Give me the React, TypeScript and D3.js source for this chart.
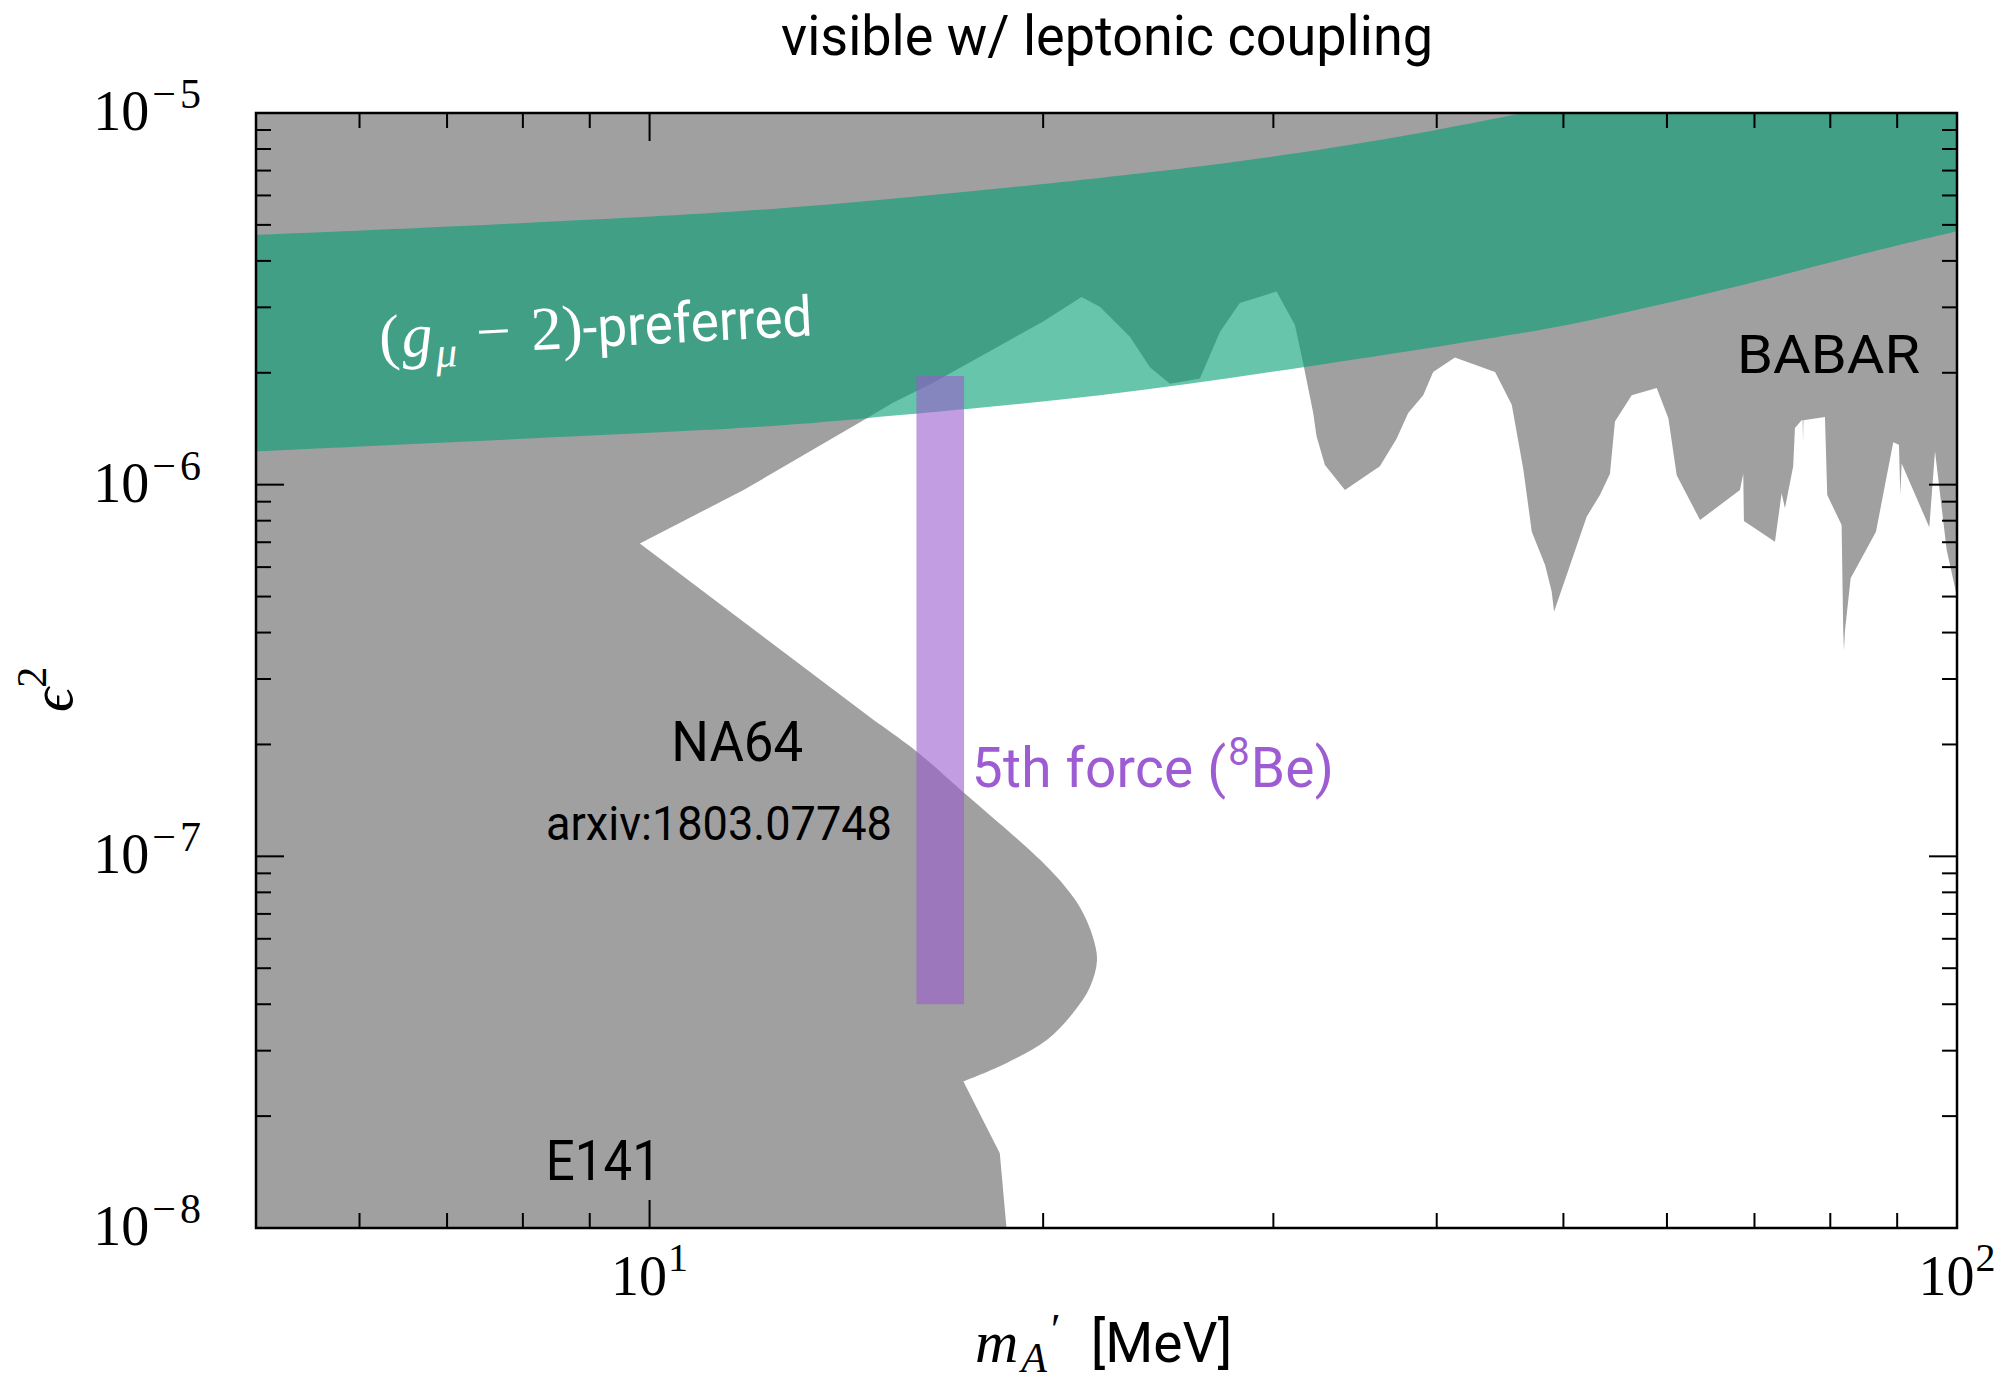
import React from "react";
import * as d3 from "d3";

type Pt = [number, number];

const W = 2006;
const H = 1382;
const plot = { left: 256, right: 1957, top: 113, bottom: 1228 };

const massDomain: Pt = [5, 100];
const eps2Domain: Pt = [1e-8, 1e-5];

// lower edge of the BaBar (+ low mass) exclusion, [m_A' MeV, eps^2], left to right
const babarEdge: Pt[] = [
  [9.83, 6.95e-7], [11.8, 9.67e-7], [14.66, 1.51e-6], [15.35, 1.66e-6], [16.48, 1.88e-6],
  [20.0, 2.75e-6], [21.4, 3.2e-6], [22.1, 3.01e-6], [23.3, 2.5e-6], [24.14, 2.07e-6],
  [25.0, 1.87e-6], [26.36, 1.93e-6], [27.31, 2.58e-6], [28.28, 3.08e-6], [30.17, 3.31e-6],
  [31.16, 2.69e-6], [31.62, 2.12e-6], [32.18, 1.56e-6], [32.37, 1.35e-6], [32.85, 1.13e-6],
  [34.03, 9.67e-7], [36.19, 1.12e-6], [37.27, 1.33e-6], [38.04, 1.56e-6], [39.06, 1.74e-6],
  [39.75, 2.01e-6], [41.3, 2.2e-6], [44.33, 2.01e-6], [45.65, 1.64e-6], [46.59, 1.1e-6],
  [47.29, 7.47e-7], [48.41, 6.08e-7], [48.98, 5.15e-7], [49.18, 4.55e-7], [52.09, 8.2e-7],
  [53.32, 9.38e-7], [54.27, 1.07e-6], [54.75, 1.48e-6], [56.39, 1.74e-6], [58.93, 1.82e-6],
  [60.15, 1.51e-6], [61.04, 1.06e-6], [63.6, 8.03e-7], [68.23, 9.67e-7], [68.63, 1.07e-6],
  [68.71, 7.99e-7], [72.57, 7.02e-7], [73.43, 9.48e-7], [73.86, 8.64e-7], [74.94, 1.12e-6],
  [75.17, 1.42e-6], [76.06, 1.49e-6], [76.2, 1.49e-6], [76.25, 1.3e-6], [76.3, 1.49e-6],
  [79.25, 1.52e-6], [79.57, 9.38e-7], [81.61, 7.79e-7], [81.84, 4.06e-7], [81.95, 3.58e-7],
  [82.1, 4.06e-7], [82.92, 5.6e-7], [86.7, 7.47e-7], [89.38, 1.3e-6], [90.28, 1.28e-6],
  [90.5, 9.38e-7], [90.71, 1.14e-6], [95.24, 7.68e-7], [96.2, 1.23e-6], [98.2, 6.67e-7],
  [100, 4.99e-7],
];

// NA64 (arxiv:1803.07748) lower boundary, from the tip down to E141
const na64Edge: Pt[] = [
  [9.83, 6.95e-7], [14.83, 2.33e-7], [16.02, 1.91e-7], [17.37, 1.49e-7], [19.65, 1.02e-7],
  [20.48, 8.81e-8], [21.08, 7.78e-8], [21.46, 7.03e-8], [21.83, 6.07e-8], [21.99, 5.26e-8],
  [21.72, 4.45e-8], [21.08, 3.79e-8], [20.14, 3.21e-8], [18.76, 2.78e-8], [17.38, 2.48e-8],
];

const e141Edge: Pt[] = [[17.38, 2.48e-8], [18.53, 1.59e-8], [18.75, 1e-8]];

// (g_mu - 2) preferred band
const gm2Upper: Pt[] = [
  [5, 4.7e-6], [12.06, 5.48e-6], [22.1, 6.69e-6], [28.79, 7.48e-6], [37.49, 8.64e-6], [46.59, 1e-5],
];
const gm2Lower: Pt[] = [
  [5, 1.23e-6], [9.17, 1.36e-6], [12.06, 1.43e-6], [14.66, 1.51e-6], [22.1, 1.74e-6],
  [31.62, 2.07e-6], [43.42, 2.46e-6], [50.29, 2.69e-6], [58.24, 3.01e-6], [67.43, 3.4e-6],
  [90.44, 4.42e-6], [100, 4.81e-6],
];

// 8Be anomaly box
const be8Mass: Pt = [16.0, 17.4];
const be8Eps2: Pt = [4e-8, 1.96e-6];

const xMajor = [10, 100];
const xMinor = [6, 7, 8, 9, 20, 30, 40, 50, 60, 70, 80, 90];
const xTickLabels = [
  { v: 10, exp: "1" },
  { v: 100, exp: "2" },
];
const yMajor = [1e-8, 1e-7, 1e-6, 1e-5];
const yMinor = [-8, -7, -6].flatMap((e) => [2, 3, 4, 5, 6, 7, 8, 9].map((k) => k * Math.pow(10, e)));
const yTickLabels = [
  { v: 1e-8, exp: "\u22128" },
  { v: 1e-7, exp: "\u22127" },
  { v: 1e-6, exp: "\u22126" },
  { v: 1e-5, exp: "\u22125" },
];

const GRAY = "#a0a0a0";
const GREEN = "#009e73";
const PURPLE = "#9b5ccd";
const PURPLE_TEXT = "#9d5cd2";
const SANS = "Roboto, 'DejaVu Sans', sans-serif";
const SERIF = "'Liberation Serif', 'DejaVu Serif', serif";

export default function App() {
  const x = d3.scaleLog().domain(massDomain).range([plot.left, plot.right]);
  const y = d3.scaleLog().domain(eps2Domain).range([plot.bottom, plot.top]);

  const lin = d3.line<Pt>().x((d) => x(d[0])).y((d) => y(d[1]));
  const smooth = d3
    .line<Pt>()
    .x((d) => x(d[0]))
    .y((d) => y(d[1]))
    .curve(d3.curveCatmullRom.alpha(0.5));

  const excluded =
    lin([[5, 1e-8], [5, 1e-5], [100, 1e-5], ...babarEdge.slice().reverse()]) +
    (smooth(na64Edge.slice(1)) || "").replace(/^M/, "L") +
    (lin(e141Edge.slice(1)) || "").replace(/^M/, "L") +
    "Z";

  const band =
    (smooth(gm2Upper) || "") +
    (lin([[100, 1e-5], [100, 4.81e-6]]) || "").replace(/^M/, "L") +
    (smooth(gm2Lower.slice().reverse()) || "").replace(/^M/, "L") +
    "Z";

  const majorLen = 28;
  const minorLen = 15;

  const xTicks = [
    ...xMajor.map((v) => ({ v, len: majorLen })),
    ...xMinor.map((v) => ({ v, len: minorLen })),
  ];
  const yTicks = [
    ...yMajor.map((v) => ({ v, len: majorLen })),
    ...yMinor.map((v) => ({ v, len: minorLen })),
  ];

  return (
    <svg
      width={W}
      height={H}
      style={{ position: "absolute", left: 0, top: 0, background: "white" }}
    >
      <defs>
        <clipPath id="plotClip">
          <rect x={plot.left} y={plot.top} width={plot.right - plot.left} height={plot.bottom - plot.top} />
        </clipPath>
      </defs>

      <g clipPath="url(#plotClip)">
        <path d={excluded} fill={GRAY} />
        <path d={band} fill={GREEN} fillOpacity={0.6} />
        <rect
          x={x(be8Mass[0])}
          width={x(be8Mass[1]) - x(be8Mass[0])}
          y={y(be8Eps2[1])}
          height={y(be8Eps2[0]) - y(be8Eps2[1])}
          fill={PURPLE}
          fillOpacity={0.6}
        />
      </g>

      {/* labels inside the plot */}
      <g transform={`translate(${x(6.22)},${y(2.19e-6)}) rotate(-3)`}>
        <text fill="white" fontFamily={SERIF} fontSize={62}>
          (<tspan fontStyle="italic" dx={2}>g</tspan>
          <tspan fontStyle="italic" fontSize={43} dy={12} dx={2}>μ</tspan>
          <tspan dy={-12} dx={20}>−</tspan>
          <tspan dx={20}>2)</tspan>
          <tspan fontFamily={SANS} fontSize={56} textLength={230} lengthAdjust="spacingAndGlyphs">-preferred</tspan>
        </text>
      </g>
      <text x={x(93.7)} y={y(2.0e-6)} textAnchor="end" fontFamily={SANS} fontSize={54}
        textLength={183} lengthAdjust="spacingAndGlyphs">BABAR</text>
      <text x={x(11.67)} y={y(1.805e-7)} textAnchor="middle" fontFamily={SANS} fontSize={56}
        textLength={132} lengthAdjust="spacingAndGlyphs">NA64</text>
      <text x={x(11.3)} y={y(1.106e-7)} textAnchor="middle" fontFamily={SANS} fontSize={48}
        textLength={346} lengthAdjust="spacingAndGlyphs">arxiv:1803.07748</text>
      <text x={x(8.33)} y={y(1.35e-8)} fontFamily={SANS} fontSize={56}
        textLength={115} lengthAdjust="spacingAndGlyphs">E141</text>
      <text x={x(17.64)} y={y(1.537e-7)} fill={PURPLE_TEXT} fontFamily={SANS} fontSize={55}
        textLength={362} lengthAdjust="spacing">
        5th force (<tspan fontSize={38} dy={-22} dx={2}>8</tspan>
        <tspan dy={22} dx={1}>Be)</tspan>
      </text>

      {/* frame and ticks */}
      <g stroke="black" strokeWidth={2}>
        {xTicks.map((t, i) => (
          <g key={"xt" + i}>
            <line x1={x(t.v)} x2={x(t.v)} y1={plot.bottom} y2={plot.bottom - t.len} />
            <line x1={x(t.v)} x2={x(t.v)} y1={plot.top} y2={plot.top + t.len} />
          </g>
        ))}
        {yTicks.map((t, i) => (
          <g key={"yt" + i}>
            <line x1={plot.left} x2={plot.left + t.len} y1={y(t.v)} y2={y(t.v)} />
            <line x1={plot.right} x2={plot.right - t.len} y1={y(t.v)} y2={y(t.v)} />
          </g>
        ))}
      </g>
      <rect
        x={plot.left}
        y={plot.top}
        width={plot.right - plot.left}
        height={plot.bottom - plot.top}
        fill="none"
        stroke="black"
        strokeWidth={2.5}
      />

      {/* tick labels */}
      {xTickLabels.map((t) => (
        <text key={"xl" + t.v} x={x(t.v)} y={plot.bottom + 67} textAnchor="middle" fontFamily={SERIF} fontSize={56}>
          10<tspan fontSize={40} dy={-24} dx={1}>{t.exp}</tspan>
        </text>
      ))}
      {yTickLabels.map((t) => (
        <text key={"yl" + t.v} x={205} y={y(t.v) + 17} textAnchor="end" fontFamily={SERIF} fontSize={56}>
          10<tspan fontSize={42} dy={-22} dx={3} letterSpacing={4}>{t.exp}</tspan>
        </text>
      ))}

      {/* axis titles */}
      <text x={1107} y={55} textAnchor="middle" fontFamily={SANS} fontSize={55}
        textLength={652} lengthAdjust="spacingAndGlyphs">visible w/ leptonic coupling</text>
      <text x={975} y={1362} fontFamily={SERIF} fontSize={60}>
        <tspan fontStyle="italic">m</tspan>
        <tspan fontStyle="italic" fontSize={42} dy={10} dx={3}>A</tspan>
        <tspan fontSize={44} dy={-28} dx={4}>′</tspan>
        <tspan dy={18} dx={30} fontFamily={SANS} fontSize={55}>[MeV]</tspan>
      </text>
      <g transform="translate(72,712) rotate(-90)">
        <text fontFamily={SERIF} fontSize={60}>
          <tspan fontStyle="italic">ϵ</tspan>
          <tspan fontSize={42} dy={-26}>2</tspan>
        </text>
      </g>
    </svg>
  );
}
